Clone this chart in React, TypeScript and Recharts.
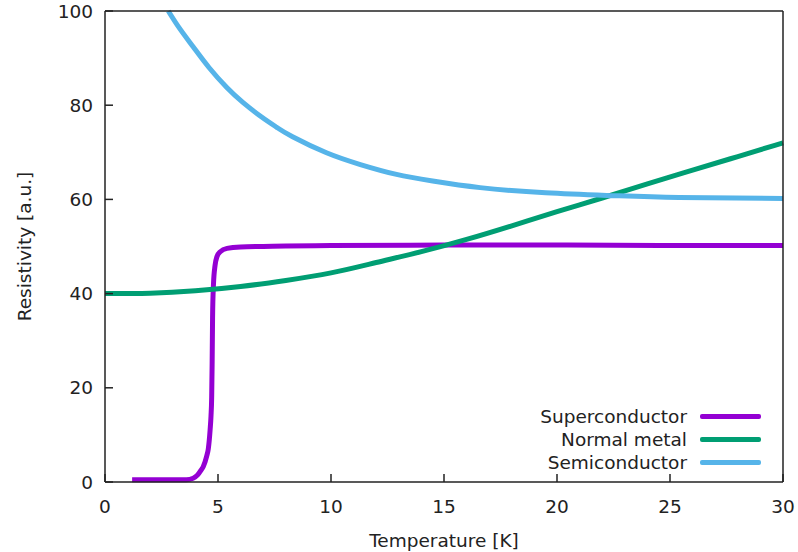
import React from "react";
import { LineChart, Line, XAxis, YAxis, Legend } from "recharts";

const FONT = "'DejaVu Sans', sans-serif";
const INK = "#222";

const X_TICKS = [0, 5, 10, 15, 20, 25, 30];
const Y_TICKS = [0, 20, 40, 60, 80, 100];

const SERIES_NAMES = ["Superconductor", "Normal metal", "Semiconductor"];
const SERIES_COLORS = ["#9400d3", "#009e73", "#56b4e9"];

// Superconductor: temperature [K], resistivity [a.u.]
const superT = [1.2, 2, 3, 3.6, 3.9, 4.1, 4.25, 4.35, 4.5, 4.57, 4.65, 4.69, 4.72, 4.74, 4.76, 4.8, 4.87, 4.95, 5.1, 5.4, 6, 7, 8, 10, 15, 20, 25, 30];
const superR = [0.5, 0.5, 0.5, 0.5, 0.8, 1.5, 2.5, 3.3, 5.5, 7, 11, 14, 18, 25, 35, 42, 46, 47.8, 48.9, 49.6, 49.9, 50, 50.1, 50.2, 50.3, 50.3, 50.2, 50.2];

// Normal metal
const metalT = [0, 2, 4, 6, 8, 10, 12, 14, 16, 18, 20, 22, 24, 26, 28, 30];
const metalR = [40, 40.1, 40.6, 41.5, 42.8, 44.4, 46.6, 48.9, 51.5, 54.4, 57.4, 60.3, 63.3, 66.2, 69.1, 72];

// Semiconductor
const semiT = [2.8, 3.3, 3.9, 4.6, 5.4, 6.1, 6.9, 7.6, 8.3, 9.8, 11.3, 12.9, 14.5, 16.6, 19.5, 22.5, 25.4, 30];
const semiR = [100, 96.3, 92.4, 88.0, 83.7, 80.6, 77.6, 75.3, 73.3, 69.9, 67.4, 65.3, 63.9, 62.5, 61.4, 60.8, 60.4, 60.2];

const toRows = (ts: number[], rs: number[]) => ts.map((t, i) => ({ t, rho: rs[i] }));

const superData = toRows(superT, superR);
const metalData = toRows(metalT, metalR);
const semiData = toRows(semiT, semiR);

const axisLine = { stroke: INK, strokeWidth: 1.5 };
const tickStyle = { fill: INK, fontSize: 18.5, fontFamily: FONT };

function renderXLabel(props: any) {
  const vb = props.viewBox;
  return (
    <text x={vb.x + vb.width / 2} y={vb.y + vb.height - 5} textAnchor="middle" fill={INK} fontSize={18.5} fontFamily={FONT}>
      Temperature [K]
    </text>
  );
}

function renderYLabel(props: any) {
  const vb = props.viewBox;
  const x = vb.x + 31;
  const y = vb.y + vb.height / 2;
  return (
    <text x={x} y={y} transform={`rotate(-90 ${x} ${y})`} textAnchor="middle" fill={INK} fontSize={18.5} fontFamily={FONT}>
      Resistivity [a.u.]
    </text>
  );
}

function renderLegend() {
  return (
    <div style={{ fontFamily: FONT, fontSize: 18.5, color: INK }}>
      {SERIES_NAMES.map((name, i) => (
        <div key={name} style={{ display: "flex", justifyContent: "flex-end", alignItems: "center", height: 23 }}>
          <span style={{ whiteSpace: "nowrap" }}>{name}</span>
          <span style={{ display: "inline-block", width: 61, height: 5, borderRadius: 2, background: SERIES_COLORS[i], marginLeft: 13 }} />
        </div>
      ))}
    </div>
  );
}

export default function App() {
  return (
    <div style={{ position: "absolute", left: 0, top: 0, background: "#fff" }}>
      <LineChart width={798} height={552} margin={{ top: 10, right: 14, bottom: 0, left: 0 }} style={{ fontFamily: FONT }}>
        <XAxis
          dataKey="t"
          type="number"
          domain={[0, 30]}
          ticks={X_TICKS}
          height={70}
          axisLine={axisLine}
          tickLine={axisLine}
          tickSize={-8}
          tickMargin={26}
          tick={tickStyle}
          label={renderXLabel}
        />
        <XAxis xAxisId="top" orientation="top" type="number" domain={[0, 30]} ticks={X_TICKS} height={1} axisLine={axisLine} tickLine={axisLine} tickSize={-8} tick={false} />
        <YAxis
          type="number"
          domain={[0, 100]}
          ticks={Y_TICKS}
          width={105}
          axisLine={axisLine}
          tickLine={axisLine}
          tickSize={-8}
          tickMargin={20}
          tick={tickStyle}
          label={renderYLabel}
        />
        <YAxis yAxisId="right" orientation="right" type="number" domain={[0, 100]} ticks={Y_TICKS} width={1} axisLine={axisLine} tickLine={axisLine} tickSize={-8} tick={false} />
        <Legend
          layout="vertical"
          align="center"
          verticalAlign="middle"
          content={renderLegend}
          wrapperStyle={{ left: 511, top: 404.5, width: 250 }}
        />
        <Line data={superData} dataKey="rho" name={SERIES_NAMES[0]} type="monotone" stroke={SERIES_COLORS[0]} strokeWidth={5} dot={false} activeDot={false} isAnimationActive={false} />
        <Line data={metalData} dataKey="rho" name={SERIES_NAMES[1]} type="natural" stroke={SERIES_COLORS[1]} strokeWidth={5} dot={false} activeDot={false} isAnimationActive={false} />
        <Line data={semiData} dataKey="rho" name={SERIES_NAMES[2]} type="natural" stroke={SERIES_COLORS[2]} strokeWidth={5} dot={false} activeDot={false} isAnimationActive={false} />
      </LineChart>
    </div>
  );
}
